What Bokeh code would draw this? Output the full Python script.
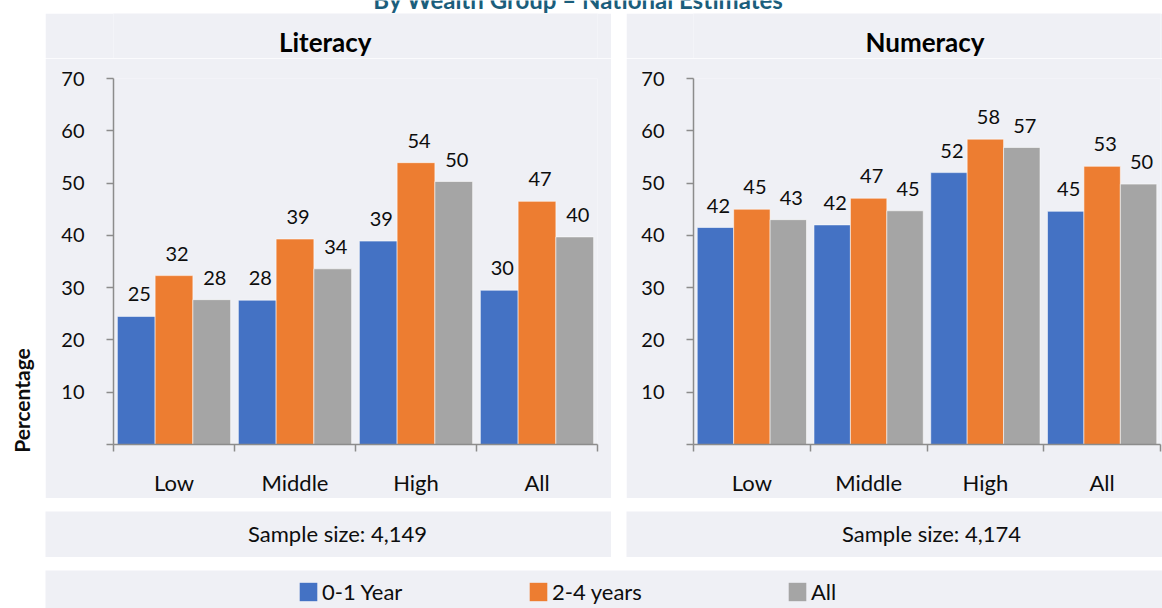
import numpy as np
from bokeh.plotting import figure
from bokeh.models import (ColumnDataSource, Range1d, FixedTicker, Label, Legend,
                          LegendItem, Spacer)
from bokeh.layouts import column, row
from bokeh.transform import dodge
from bokeh.core.properties import value
from bokeh.embed import file_html
from bokeh.resources import INLINE

# ---------------- data ----------------
categories = ["Low", "Middle", "High", "All"]
series = ["0-1 Year", "2-4 years", "All"]
literacy_0_1 = [24.5, 27.6, 38.9, 29.5]
literacy_2_4 = [32.3, 39.3, 53.9, 46.5]
literacy_all = [27.7, 33.6, 50.3, 39.7]
numeracy_0_1 = [41.5, 42.0, 52.0, 44.6]
numeracy_2_4 = [45.0, 47.1, 58.4, 53.2]
numeracy_all = [43.0, 44.7, 56.8, 49.8]
y_ticks = [0, 10, 20, 30, 40, 50, 60, 70]
sample_sizes = ["4,149", "4,174"]
main_title = "By Wealth Group – National Estimates"
panel_titles = ["Literacy", "Numeracy"]
y_label = "Percentage"

# ---------------- style ----------------
COLORS = ["#4472C4", "#ED7D31", "#A5A5A5"]
PANEL_BG = "#EFF0F5"
AXIS = "#8C8C8C"
TXT = "#0D0D0D"
FONT = "Lato"
BAR_W = 0.312


def blank(width, height, bg, x_range=None, b_left=0, b_right=0):
    f = figure(width=width, height=height,
               x_range=x_range if x_range is not None else Range1d(0, width),
               y_range=Range1d(0, height), output_backend="svg",
               toolbar_location=None, x_axis_type=None, y_axis_type=None,
               min_border=0, min_border_left=b_left, min_border_right=b_right)
    f.background_fill_color = bg
    f.border_fill_color = bg
    f.outline_line_color = None
    f.xgrid.visible = False
    f.ygrid.visible = False
    return f


def make_panel(title, vals, width, b_left, b_right, title_x):
    n = len(categories)
    # title strip on the panel background (frame aligned with the chart below)
    t = blank(width, 45, PANEL_BG, x_range=Range1d(0, n), b_left=b_left, b_right=b_right)
    t.add_layout(Label(x=title_x, y=17, text=title, text_align="center",
                       text_baseline="middle", text_font=FONT,
                       text_font_size="26px", text_font_style="bold",
                       text_color="#000000"))

    p = figure(width=width, height=440, x_range=Range1d(0, n), y_range=Range1d(0, 70),
               output_backend="svg", toolbar_location=None,
               min_border_left=b_left, min_border_right=b_right,
               min_border_top=20, min_border_bottom=47)
    p.background_fill_color = PANEL_BG
    p.border_fill_color = PANEL_BG
    p.outline_line_color = None
    p.xgrid.visible = False
    p.ygrid.visible = False

    x = np.arange(n) + 0.5
    offsets = [-BAR_W, 0.0, BAR_W]
    for v, c, off in zip(vals, COLORS, offsets):
        src = ColumnDataSource(dict(x=x, v=v, lab=[str(int(t_ + 0.5)) for t_ in v]))
        p.vbar(x=dodge("x", off), top="v", width=BAR_W, source=src,
               fill_color=c, line_color="white", line_alpha=0.55, line_width=1)
        p.text(x=dodge("x", off), y="v", text="lab", source=src,
               text_align="center", text_baseline="alphabetic",
               x_offset=3, y_offset=-22, text_font=value(FONT),
               text_font_size="20px", text_color=TXT)

    xa = p.xaxis[0]
    ya = p.yaxis[0]
    xa.ticker = FixedTicker(ticks=[float(v) for v in x],
                            minor_ticks=[float(i) for i in range(n + 1)])
    xa.major_label_overrides = {float(v): c for v, c in zip(x, categories)}
    xa.major_tick_line_color = None
    xa.major_tick_out = 0
    xa.major_tick_in = 0
    xa.minor_tick_line_color = AXIS
    xa.minor_tick_line_width = 1.5
    xa.minor_tick_out = 7
    xa.minor_tick_in = 0
    xa.major_label_standoff = 17
    xa.major_label_text_font_size = "22px"

    ya.ticker = FixedTicker(ticks=y_ticks)
    ya.major_label_overrides = {0: ""}
    ya.major_tick_line_color = AXIS
    ya.major_tick_line_width = 1.5
    ya.major_tick_out = 7
    ya.major_tick_in = 0
    ya.minor_tick_line_color = None
    ya.major_label_standoff = 22
    ya.major_label_text_font_size = "20px"

    for ax in (xa, ya):
        ax.axis_line_color = AXIS
        ax.axis_line_width = 1.5
        ax.major_label_text_font = FONT
        ax.major_label_text_color = TXT

    return column(t, p)


# main title strip (cut off at the top, as in the reference)
title_fig = blank(1162, 13, "white")
title_fig.add_layout(Label(x=578, y=14.5, text=main_title, text_align="center",
                           text_baseline="middle", text_font=FONT,
                           text_font_size="24px", text_font_style="bold",
                           text_color="#1B5E7C"))

# y label strip
pct_fig = blank(45, 485, "white")
pct_fig.add_layout(Label(x=21, y=98, text=y_label, angle=np.pi / 2,
                         text_align="center", text_baseline="middle",
                         text_font=FONT, text_font_size="21px",
                         text_font_style="bold", text_color=TXT))

lit = make_panel(panel_titles[0], [literacy_0_1, literacy_2_4, literacy_all],
                 566, 68, 14, 1.75)
num = make_panel(panel_titles[1], [numeracy_0_1, numeracy_2_4, numeracy_all],
                 536, 67, 2, 1.983)

# sample size boxes
s1 = blank(566, 46, PANEL_BG)
s1.add_layout(Label(x=292, y=24, text="Sample size: " + sample_sizes[0],
                    text_align="center", text_baseline="middle", text_font=FONT,
                    text_font_size="22px", text_color=TXT))
s2 = blank(536, 46, PANEL_BG)
s2.add_layout(Label(x=305, y=24, text="Sample size: " + sample_sizes[1],
                    text_align="center", text_baseline="middle", text_font=FONT,
                    text_font_size="22px", text_color=TXT))

# legend box
leg_fig = blank(1117, 38, PANEL_BG)
leg_x = [252, 482, 741]
for name, c, lx in zip(series, COLORS, leg_x):
    r = leg_fig.vbar(x=[0], top=[0], bottom=[0], width=0, fill_color=c, line_color=None)
    leg = Legend(items=[LegendItem(label=value(name), renderers=[r])],
                 location=(lx, 3), orientation="horizontal", padding=0, margin=0,
                 spacing=0, glyph_width=22, glyph_height=23, label_height=23,
                 label_standoff=3, label_text_font=FONT,
                 label_text_font_size="22px", label_text_color=TXT,
                 background_fill_alpha=0, border_line_alpha=0)
    leg_fig.add_layout(leg)

layout = column(
    title_fig,
    row(pct_fig, lit, Spacer(width=15, height=485), num),
    Spacer(width=10, height=13),
    row(Spacer(width=45, height=46), s1, Spacer(width=15, height=46), s2),
    Spacer(width=10, height=13),
    row(Spacer(width=45, height=38), leg_fig),
)

open("out.html", "w").write(file_html(layout, INLINE))
